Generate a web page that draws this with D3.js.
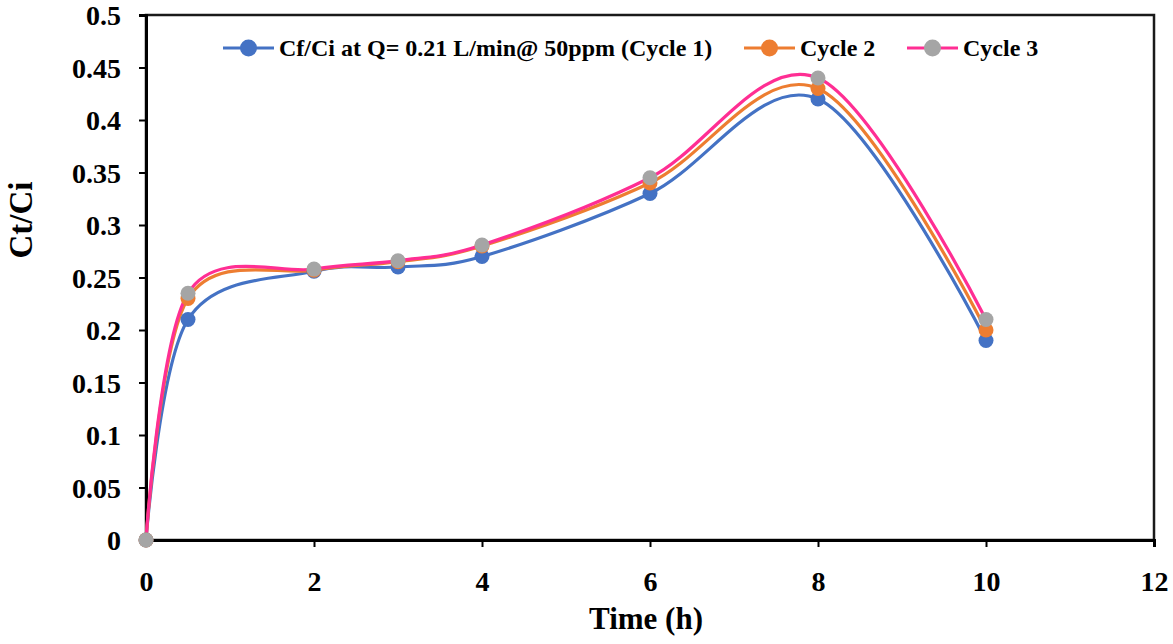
<!DOCTYPE html>
<html>
<head>
<meta charset="utf-8">
<script src="https://cdn.jsdelivr.net/npm/d3@7"></script>
<style>
  html, body { margin: 0; padding: 0; background: #fff; }
  svg { display: block; font-family: "Liberation Serif", "Times New Roman", serif; font-weight: bold; }
</style>
</head>
<body>
<svg id="chart" width="1173" height="644"></svg>
<script>
// Sampling times (h)
const times = [0, 0.5, 2, 3, 4, 6, 8, 10];
// Ct/Ci for each adsorption cycle
const cycle1 = [0, 0.21, 0.256, 0.26, 0.27, 0.33, 0.42, 0.19];
const cycle2 = [0, 0.23, 0.257, 0.265, 0.28, 0.34, 0.43, 0.20];
const cycle3 = [0, 0.235, 0.258, 0.266, 0.281, 0.345, 0.44, 0.21];
const seriesNames = ["Cf/Ci at Q= 0.21 L/min@ 50ppm (Cycle 1)", "Cycle 2", "Cycle 3"];
const xTicks = [0, 2, 4, 6, 8, 10, 12];
const yTicks = [0, 0.05, 0.1, 0.15, 0.2, 0.25, 0.3, 0.35, 0.4, 0.45, 0.5];

const series = [
  { name: seriesNames[0], values: cycle1, line: "#4472C4", marker: "#4472C4" },
  { name: seriesNames[1], values: cycle2, line: "#ED7D31", marker: "#ED7D31" },
  { name: seriesNames[2], values: cycle3, line: "#FF2E93", marker: "#A5A5A5" }
];

const svg = d3.select("#chart");
const margin = { left: 146, right: 19, top: 15, bottom: 104 };
const W = 1173, H = 644;
const x = d3.scaleLinear().domain([0, 12]).range([margin.left, W - margin.right]);
const y = d3.scaleLinear().domain([0, 0.5]).range([H - margin.bottom, margin.top]);

// Frame around the plot area
svg.append("rect")
  .attr("x", x(0)).attr("y", y(0.5))
  .attr("width", x(12) - x(0)).attr("height", y(0) - y(0.5))
  .attr("fill", "none").attr("stroke", "#1a1a1a").attr("stroke-width", 2.5);

// Axes
const fmt = d => String(d);
const xAxis = svg.append("g").attr("transform", `translate(0,${y(0)})`)
  .call(d3.axisBottom(x).tickValues(xTicks).tickFormat(fmt).tickSize(7).tickPadding(24));
const yAxis = svg.append("g").attr("transform", `translate(${x(0)},0)`)
  .call(d3.axisLeft(y).tickValues(yTicks).tickFormat(fmt).tickSize(7).tickPadding(18));
[xAxis, yAxis].forEach(g => {
  g.attr("font-family", null);
  g.select(".domain").attr("stroke", "#000").attr("stroke-width", 3);
  g.selectAll(".tick line").attr("stroke", "#000").attr("stroke-width", 2);
  g.selectAll(".tick text").attr("fill", "#000")
    .style("font-family", "'Liberation Serif', serif").style("font-weight", "bold").style("font-size", "28px");
});
yAxis.selectAll(".tick text").attr("dy", "0.35em");

// Axis titles
svg.append("text").attr("x", 646).attr("y", 629).attr("text-anchor", "middle")
  .style("font-size", "31px").text("Time (h)");
svg.append("text").attr("transform", "translate(32,220) rotate(-90)").attr("text-anchor", "middle")
  .style("font-size", "33px").text("Ct/Ci");

// Smoothed series lines
const line = d3.line().x(d => x(d[0])).y(d => y(d[1])).curve(d3.curveCardinal.tension(0));
series.forEach(s => {
  const pts = times.map((t, i) => [t, s.values[i]]);
  svg.append("path").datum(pts)
    .attr("d", line).attr("fill", "none").attr("stroke", s.line).attr("stroke-width", 3.2);
});
series.forEach(s => {
  svg.append("g").selectAll("circle").data(times.map((t, i) => [t, s.values[i]])).join("circle")
    .attr("cx", d => x(d[0])).attr("cy", d => y(d[1])).attr("r", 7.5).attr("fill", s.marker);
});

// Legend
const legendX = [223, 744, 907];
const legendY = 48;
series.forEach((s, i) => {
  const g = svg.append("g").attr("transform", `translate(${legendX[i]},${legendY})`);
  g.append("line").attr("x1", 0).attr("x2", 51).attr("y1", 0).attr("y2", 0)
    .attr("stroke", s.line).attr("stroke-width", 3.2);
  g.append("circle").attr("cx", 25.5).attr("cy", 0).attr("r", 8.5).attr("fill", s.marker);
  g.append("text").attr("x", 56).attr("y", 8).style("font-size", "24px").text(s.name);
});
</script>
</body>
</html>
